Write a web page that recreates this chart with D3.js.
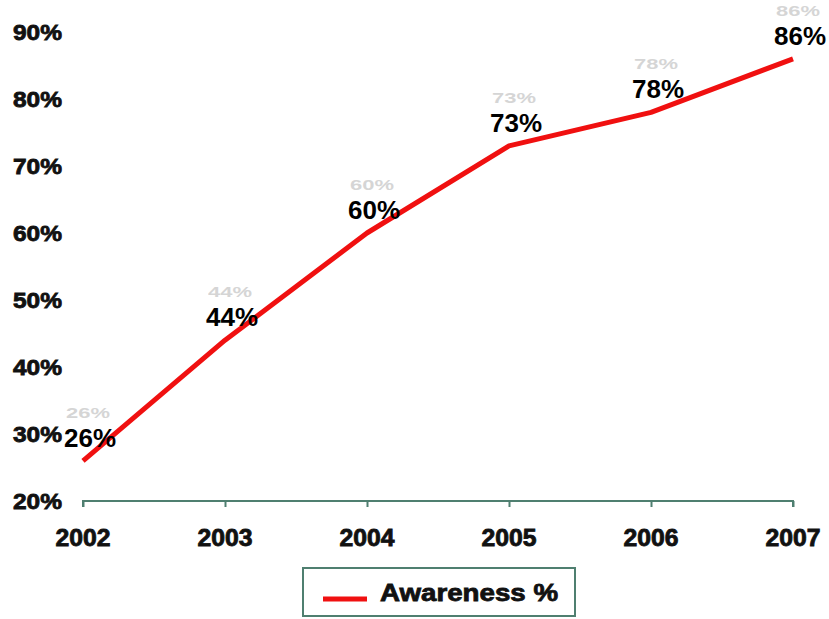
<!DOCTYPE html>
<html>
<head>
<meta charset="utf-8">
<script src="https://cdn.jsdelivr.net/npm/d3@7"></script>
<style>
  html, body { margin: 0; padding: 0; background: #fff; }
  svg { display: block; }
  .tick-label { font-family: "Liberation Sans", Arial, sans-serif; font-weight: bold; fill: #111; stroke: #111; stroke-width: 0.8px; }
  .value-label { font-family: "Liberation Sans", Arial, sans-serif; font-weight: bold; fill: #000; }
  .ghost-label { font-family: "Liberation Sans", Arial, sans-serif; font-weight: bold; fill: #999; opacity: 0.4; }
</style>
</head>
<body>
<svg id="chart" width="829" height="619"></svg>
<script>
// Awareness by year
const years = ["2002", "2003", "2004", "2005", "2006", "2007"];
const awareness = [26, 44, 60, 73, 78, 86];
const yTicks = [20, 30, 40, 50, 60, 70, 80, 90];
const seriesName = "Awareness %";

const svg = d3.select("#chart");

const x = d3.scalePoint().domain(years).range([83, 793]);
const y = d3.scaleLinear().domain([20, 90]).range([501, 32]);

const axisColor = "#4f7f70";
const lineColor = "#f01010";

// X axis baseline with downward ticks
const xAxis = d3.axisBottom(x).tickSize(6).tickSizeOuter(0).tickFormat("");
const gx = svg.append("g").attr("transform", `translate(0,${y(20)})`).call(xAxis);
gx.select(".domain").attr("stroke", axisColor).attr("stroke-width", 2).attr("d", `M${x(years[0])},6V0H${x(years[years.length-1])}V6`);
gx.selectAll(".tick line").attr("stroke", axisColor).attr("stroke-width", 2);

// X tick labels
svg.append("g").selectAll("text").data(years).join("text")
  .attr("class", "tick-label")
  .attr("x", d => x(d))
  .attr("y", 546)
  .attr("text-anchor", "middle")
  .attr("font-size", 23)
  .attr("textLength", 55)
  .attr("lengthAdjust", "spacingAndGlyphs")
  .text(d => d);

// Y tick labels (no axis line)
svg.append("g").selectAll("text").data(yTicks).join("text")
  .attr("class", "tick-label")
  .attr("x", 62)
  .attr("y", d => y(d))
  .attr("dy", "0.36em")
  .attr("text-anchor", "end")
  .attr("font-size", 22)
  .attr("textLength", 49)
  .attr("lengthAdjust", "spacingAndGlyphs")
  .text(d => d + "%");

// Series line
const line = d3.line().x((d, i) => x(years[i])).y(d => y(d));
svg.append("path")
  .datum(awareness)
  .attr("fill", "none")
  .attr("stroke", lineColor)
  .attr("stroke-width", 5)
  .attr("stroke-linejoin", "round")
  .attr("d", line);

// Faint echo of each value label, just above it
svg.append("g").selectAll("text").data(awareness).join("text")
  .attr("class", "ghost-label")
  .attr("x", (d, i) => x(years[i]) + 5)
  .attr("y", d => y(d) - 43)
  .attr("text-anchor", "middle")
  .attr("font-size", 15)
  .attr("textLength", 44)
  .attr("lengthAdjust", "spacingAndGlyphs")
  .text(d => d + "%");

// Value labels
svg.append("g").selectAll("text").data(awareness).join("text")
  .attr("class", "value-label")
  .attr("x", (d, i) => x(years[i]) + 7)
  .attr("y", d => y(d) - 14)
  .attr("text-anchor", "middle")
  .attr("font-size", 26)
  .text(d => d + "%");

// Legend
const legend = svg.append("g").attr("transform", "translate(303,568)");
legend.append("rect")
  .attr("width", 272).attr("height", 48)
  .attr("fill", "#fff")
  .attr("stroke", axisColor).attr("stroke-width", 2);
legend.append("line")
  .attr("x1", 20).attr("x2", 64).attr("y1", 31).attr("y2", 31)
  .attr("stroke", lineColor).attr("stroke-width", 5);
legend.append("text")
  .attr("class", "tick-label")
  .attr("x", 77).attr("y", 25).attr("dy", "0.36em")
  .attr("font-size", 23)
  .attr("textLength", 178)
  .attr("lengthAdjust", "spacingAndGlyphs")
  .text(seriesName);
</script>
</body>
</html>
